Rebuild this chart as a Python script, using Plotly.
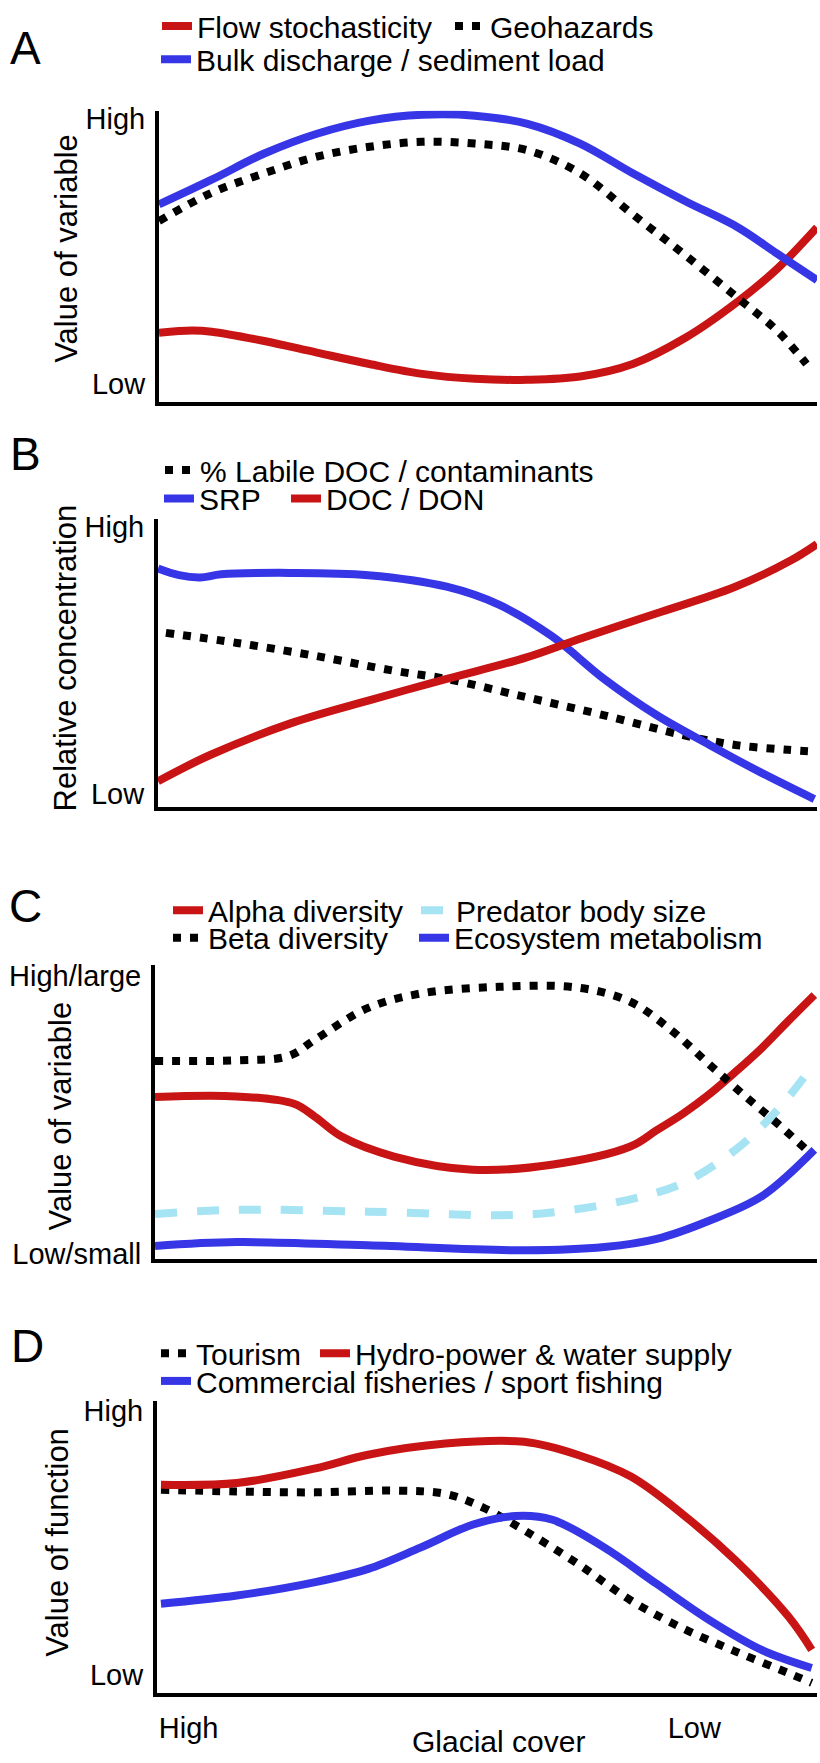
import plotly.graph_objects as go

W, H = 820, 1763

# ---------------- DATA (x: 0 = high glacial cover ... 1 = low; y: 0 = low ... 1 = high) ----------
# Panel A
a_x_flow = [0, 0.05, 0.08, 0.16, 0.24, 0.32, 0.40, 0.48, 0.56, 0.64, 0.72, 0.80, 0.88, 0.94, 1.0]
a_flow = [0.237, 0.245, 0.241, 0.209, 0.169, 0.130, 0.096, 0.079, 0.076, 0.087, 0.130, 0.220, 0.345, 0.458, 0.599]
a_x_bulk = [0, 0.08, 0.16, 0.24, 0.32, 0.40, 0.48, 0.56, 0.64, 0.72, 0.80, 0.88, 0.94, 1.0]
a_bulk = [0.678, 0.763, 0.853, 0.921, 0.966, 0.986, 0.983, 0.955, 0.887, 0.785, 0.689, 0.599, 0.508, 0.418]
a_x_geo = [0, 0.08, 0.16, 0.24, 0.32, 0.40, 0.48, 0.56, 0.64, 0.72, 0.80, 0.88, 0.94, 0.984]
a_geo = [0.621, 0.718, 0.785, 0.842, 0.876, 0.893, 0.887, 0.864, 0.785, 0.644, 0.503, 0.356, 0.243, 0.130]

# Panel B
b_x_srp = [0, 0.032, 0.064, 0.096, 0.2, 0.319, 0.438, 0.518, 0.598, 0.677, 0.757, 0.837, 0.916, 0.996]
b_srp = [0.829, 0.806, 0.798, 0.809, 0.814, 0.806, 0.766, 0.703, 0.594, 0.446, 0.32, 0.217, 0.12, 0.029]
b_x_labile = [0.012, 0.12, 0.239, 0.359, 0.438, 0.558, 0.677, 0.797, 0.876, 0.956, 0.996]
b_labile = [0.606, 0.571, 0.526, 0.474, 0.446, 0.383, 0.32, 0.251, 0.217, 0.2, 0.194]
b_x_doc = [0, 0.08, 0.2, 0.319, 0.438, 0.558, 0.637, 0.757, 0.876, 0.96, 1.0]
b_doc = [0.091, 0.183, 0.291, 0.371, 0.446, 0.52, 0.583, 0.674, 0.766, 0.857, 0.914]

# Panel C
c_x_beta = [0, 0.123, 0.202, 0.242, 0.321, 0.401, 0.52, 0.639, 0.718, 0.782, 0.837, 0.893, 0.94, 0.984]
c_beta = [0.674, 0.676, 0.691, 0.747, 0.854, 0.904, 0.927, 0.924, 0.876, 0.775, 0.663, 0.551, 0.461, 0.371]
c_x_alpha = [0, 0.123, 0.21, 0.242, 0.282, 0.361, 0.48, 0.599, 0.718, 0.758, 0.798, 0.837, 0.877, 0.917, 0.956, 0.996]
c_alpha = [0.551, 0.553, 0.528, 0.483, 0.416, 0.348, 0.303, 0.320, 0.382, 0.438, 0.495, 0.560, 0.637, 0.719, 0.809, 0.899]
c_x_pred = [0, 0.123, 0.321, 0.52, 0.599, 0.718, 0.798, 0.877, 0.94, 0.984]
c_pred = [0.152, 0.166, 0.16, 0.148, 0.157, 0.202, 0.258, 0.371, 0.506, 0.629]
c_x_meta = [0, 0.123, 0.321, 0.56, 0.679, 0.758, 0.837, 0.917, 0.996]
c_meta = [0.043, 0.056, 0.045, 0.028, 0.039, 0.067, 0.129, 0.213, 0.371]

# Panel D
d_x_hydro = [0.006, 0.121, 0.24, 0.318, 0.437, 0.556, 0.638, 0.718, 0.797, 0.877, 0.957, 0.992]
d_hydro = [0.712, 0.718, 0.768, 0.814, 0.853, 0.859, 0.814, 0.740, 0.610, 0.452, 0.260, 0.147]
d_x_tour = [0.006, 0.121, 0.24, 0.36, 0.439, 0.495, 0.558, 0.638, 0.718, 0.797, 0.877, 0.956, 0.992]
d_tour = [0.695, 0.689, 0.686, 0.692, 0.680, 0.633, 0.554, 0.441, 0.316, 0.220, 0.141, 0.068, 0.034]
d_x_fish = [0.006, 0.121, 0.24, 0.32, 0.399, 0.479, 0.543, 0.598, 0.678, 0.757, 0.837, 0.916, 0.992]
d_fish = [0.305, 0.333, 0.379, 0.424, 0.497, 0.576, 0.605, 0.593, 0.497, 0.373, 0.249, 0.147, 0.085]

# Tick labels
ab_ytick_text = ["Low", "High"]
c_ytick_text = ["Low/small", "High/large"]
d_ytick_text = ["Low", "High"]
d_xtick_text = ["High", "Low"]
x_title = "Glacial cover"
panel_letters = ["A", "B", "C", "D"]
y_titles = ["Value of variable", "Relative concentration", "Value of variable", "Value of function"]

# ---------------- STYLE ----------------
RED = "#C81414"
BLUE = "#3636E6"
LIGHT = "#A6E4F4"
BLACK = "#000000"
FONT = "Liberation Sans, Arial, Helvetica, sans-serif"
LW = 8
DOT = "8px,9px"
DASH = "22px,20px"

fig = go.Figure()

# panel geometry in pixels: (left, right, top, bottom)
geo = [(159, 817, 100, 395), (158, 817, 514, 806), (155, 817, 966, 1263), (157, 817, 1407, 1703)]
ytickpos = [[0.061, 0.973], [0.048, 0.973], [0.017, 0.963], [0.061, 0.966]]
ytexts = [ab_ytick_text, ab_ytick_text, c_ytick_text, d_ytick_text]
letter_pos = [(25, 36), (25, 448), (25, 906), (27, 1352)]
ytitle_pos = [(67, 240), (65, 655), (60, 1118), (58, 1550)]

legend_count = [0]


def add_legend(text_x, text_y):
    legend_count[0] += 1
    n = legend_count[0]
    key = "legend" if n == 1 else f"legend{n}"
    fig.update_layout({key: dict(x=(text_x - 40) / W, y=1 - text_y / H, xanchor="left", yanchor="middle",
                                 bgcolor="rgba(0,0,0,0)", borderwidth=0,
                                 font=dict(family=FONT, size=30, color=BLACK))})
    return key


def add_line(panel, xs, ys, name, color, dash, text_xy):
    key = add_legend(*text_xy)
    sfx = "" if panel == 0 else str(panel + 1)
    fig.add_trace(go.Scatter(x=xs, y=ys, mode="lines", name=name,
                             line=dict(color=color, width=LW, dash=dash, shape="spline", smoothing=1.0),
                             xaxis="x" + sfx, yaxis="y" + sfx, legend=key, showlegend=True,
                             hoverinfo="skip"))


# Panel A
add_line(0, a_x_flow, a_flow, "Flow stochasticity", RED, "solid", (197, 14))
add_line(0, a_x_geo, a_geo, "Geohazards", BLACK, DOT, (490, 14))
add_line(0, a_x_bulk, a_bulk, "Bulk discharge / sediment load", BLUE, "solid", (196, 48))
# Panel B
add_line(1, b_x_labile, b_labile, "% Labile DOC / contaminants", BLACK, DOT, (200, 464))
add_line(1, b_x_srp, b_srp, "SRP", BLUE, "solid", (199, 493))
add_line(1, b_x_doc, b_doc, "DOC / DON", RED, "solid", (326, 493))
# Panel C
add_line(2, c_x_alpha, c_alpha, "Alpha diversity", RED, "solid", (208, 910))
add_line(2, c_x_pred, c_pred, "Predator body size", LIGHT, DASH, (456, 910))
add_line(2, c_x_beta, c_beta, "Beta diversity", BLACK, DOT, (208, 938))
add_line(2, c_x_meta, c_meta, "Ecosystem metabolism", BLUE, "solid", (454, 938))
# Panel D
add_line(3, d_x_tour, d_tour, "Tourism", BLACK, DOT, (196, 1359))
add_line(3, d_x_hydro, d_hydro, "Hydro-power & water supply", RED, "solid", (355, 1359))
add_line(3, d_x_fish, d_fish, "Commercial fisheries / sport fishing", BLUE, "solid", (196, 1387))

annotations = []
for i, (l, r, t, b) in enumerate(geo):
    sfx = "" if i == 0 else str(i + 1)
    xa = dict(domain=[l / W, r / W], range=[0, 1], showline=True, linecolor=BLACK, linewidth=4,
              showgrid=False, zeroline=False, anchor="y" + sfx, fixedrange=True)
    if i == 3:
        xa.update(tickvals=[0.048, 0.814], ticktext=d_xtick_text, ticks="",
                  tickfont=dict(family=FONT, size=29, color=BLACK), ticklabelstandoff=6)
    else:
        xa.update(showticklabels=False, ticks="")
    ya = dict(domain=[1 - b / H, 1 - t / H], range=[0, 1], showline=True, linecolor=BLACK, linewidth=4,
              showgrid=False, zeroline=False, anchor="x" + sfx, fixedrange=True,
              tickvals=ytickpos[i], ticktext=ytexts[i], ticks="",
              tickfont=dict(family=FONT, size=29, color=BLACK), ticklabelstandoff=4)
    fig.update_layout({"xaxis" + sfx: xa, "yaxis" + sfx: ya})
    lx, ly = letter_pos[i]
    annotations.append(dict(text=panel_letters[i], x=lx / W, y=1 - ly / H, xref="paper", yref="paper",
                            showarrow=False, xanchor="center", yanchor="middle",
                            font=dict(family=FONT, size=46, color=BLACK)))
    tx, ty = ytitle_pos[i]
    annotations.append(dict(text=y_titles[i], x=tx / W, y=1 - ty / H, xref="paper", yref="paper",
                            showarrow=False, xanchor="center", yanchor="middle", textangle=-90,
                            font=dict(family=FONT, size=31, color=BLACK)))

annotations.append(dict(text=x_title, x=498 / W, y=1 - 1752 / H, xref="paper", yref="paper",
                        showarrow=False, xanchor="center", yanchor="middle",
                        font=dict(family=FONT, size=30, color=BLACK)))

fig.update_layout(width=W, height=H, autosize=False, margin=dict(l=0, r=0, t=0, b=0),
                  paper_bgcolor="white", plot_bgcolor="white", annotations=annotations,
                  font=dict(family=FONT, color=BLACK), hovermode=False)

fig.write_html("out.html", config={"displayModeBar": False, "staticPlot": True},
               post_script="document.body.style.margin='0';document.body.style.overflow='hidden';")
